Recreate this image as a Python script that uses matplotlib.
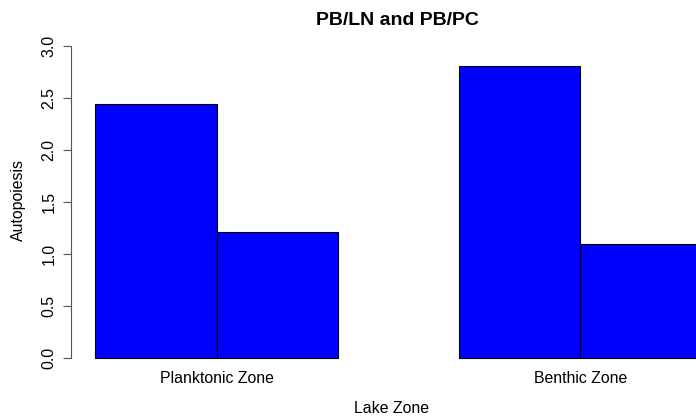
import numpy as np
import matplotlib
matplotlib.use("Agg")
import matplotlib.pyplot as plt

plt.rcParams['font.family'] = ['Liberation Sans', 'DejaVu Sans']

zones = ["Planktonic Zone", "Benthic Zone"]
ratios = ["PB/LN", "PB/PC"]
values = [[2.44, 1.21],   # Planktonic Zone
          [2.81, 1.10]]   # Benthic Zone
yticks = [0.0, 0.5, 1.0, 1.5, 2.0, 2.5, 3.0]

W, H = 696, 416
fig = plt.figure(figsize=(W / 100, H / 100), dpi=100)
# plot region (R style), right edge falls outside the cropped device
ax = fig.add_axes([71 / W, 1 - 370.8 / H, (726 - 71) / W, (370.8 - 33.5) / H])

# R barplot beside=TRUE, space=c(0,1): bars of width 1
lefts = []
pos = 0.0
for g in range(len(zones)):
    pos += 1.0
    for k in range(len(ratios)):
        lefts.append(pos)
        pos += 1.0
heights = [v for grp in values for v in grp]
ax.bar(lefts, heights, width=1.0, align='edge', color='#0000ff',
       edgecolor='black', linewidth=0.8, clip_on=False)

ax.set_xlim(0.8, 6.2)
ax.set_ylim(-0.12, 3.12)

for s in ['top', 'right', 'bottom']:
    ax.spines[s].set_visible(False)
ax.spines['left'].set_bounds(0, 3)
ax.spines['left'].set_linewidth(0.8)
ax.spines['left'].set_color('#555555')

fs = 11.4
ax.set_yticks(yticks)
ax.set_yticklabels([f"{t:.1f}" for t in yticks], rotation=90, va='center')
ax.tick_params(axis='y', length=5.5, width=0.8, color='#555555', pad=5,
               labelsize=fs)

centers = [np.mean(lefts[i * 2:i * 2 + 2]) + 0.5 for i in range(len(zones))]
ax.set_xticks(centers)
ax.set_xticklabels(zones)
ax.tick_params(axis='x', length=0, pad=0.5, labelsize=fs)

fig.text(397 / W, 1 - 25 / H, "PB/LN and PB/PC", ha='center', va='baseline',
         fontsize=14, fontweight='bold')
fig.text(391 / W, 1 - 413 / H, "Lake Zone", ha='center', va='baseline',
         fontsize=fs)
fig.text(18.5 / W, 1 - 200 / H, "Autopoiesis", ha='center', va='center',
         rotation=90, fontsize=fs)

fig.savefig("out.png", dpi=100)
